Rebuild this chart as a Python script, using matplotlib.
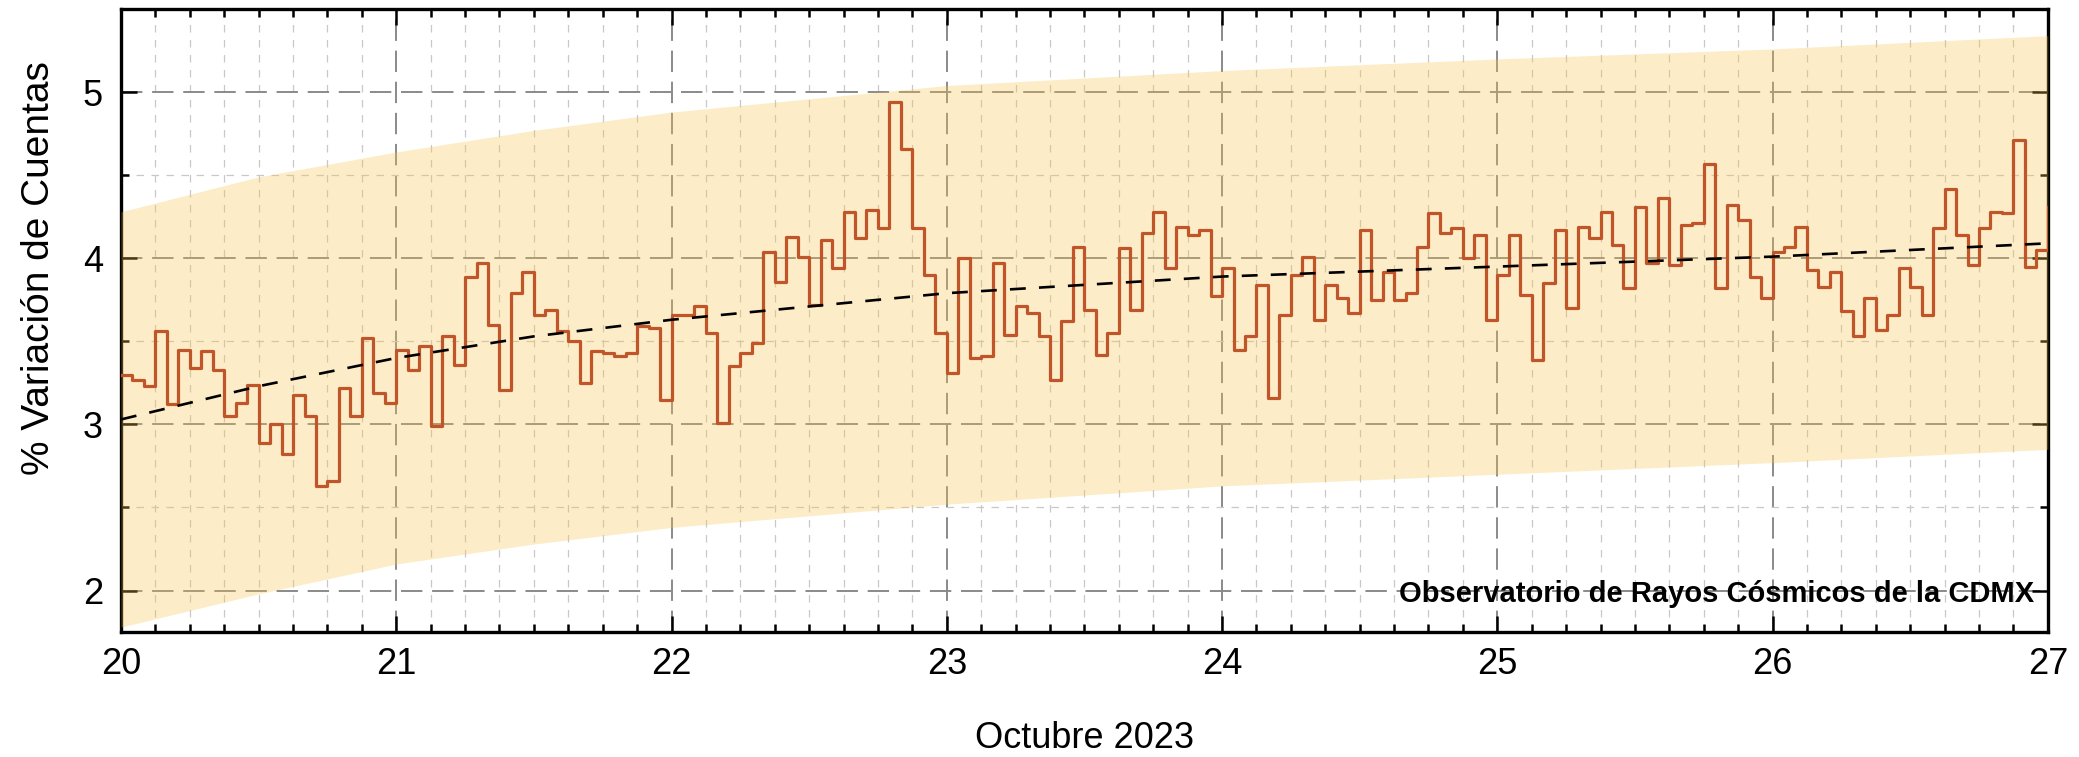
import matplotlib

matplotlib.use("Agg")
import matplotlib.pyplot as plt
import numpy as np
from matplotlib.ticker import MultipleLocator

plt.rcParams["font.family"] = ["Liberation Sans", "DejaVu Sans"]

# hourly % variation of counts, 20-27 Oct 2023 (one value per hour)
day20 = [3.30, 3.27, 3.23, 3.56, 3.12, 3.45, 3.34, 3.44, 3.33, 3.05, 3.13, 3.24,
         2.89, 3.00, 2.82, 3.18, 3.05, 2.63, 2.66, 3.22, 3.05, 3.52, 3.19, 3.13]
day21 = [3.45, 3.33, 3.47, 2.99, 3.53, 3.36, 3.89, 3.97, 3.60, 3.21, 3.79, 3.92,
         3.66, 3.69, 3.56, 3.50, 3.25, 3.44, 3.43, 3.41, 3.43, 3.59, 3.58, 3.15]
day22 = [3.66, 3.66, 3.71, 3.55, 3.01, 3.35, 3.43, 3.49, 4.04, 3.86, 4.13, 4.01,
         3.72, 4.11, 3.94, 4.28, 4.12, 4.29, 4.18, 4.94, 4.66, 4.18, 3.90, 3.55]
day23 = [3.31, 4.00, 3.40, 3.41, 3.97, 3.54, 3.71, 3.67, 3.53, 3.27, 3.62, 4.07,
         3.69, 3.42, 3.55, 4.06, 3.69, 4.15, 4.28, 3.94, 4.19, 4.14, 4.17, 3.77]
day24 = [3.94, 3.45, 3.53, 3.84, 3.16, 3.66, 3.90, 4.01, 3.63, 3.84, 3.76, 3.67,
         4.17, 3.75, 3.92, 3.75, 3.79, 4.07, 4.27, 4.15, 4.18, 4.00, 4.14, 3.63]
day25 = [3.90, 4.14, 3.78, 3.39, 3.85, 4.17, 3.70, 4.19, 4.12, 4.28, 4.08, 3.82,
         4.31, 3.97, 4.36, 3.96, 4.20, 4.21, 4.57, 3.82, 4.32, 4.23, 3.89, 3.76]
day26 = [4.04, 4.07, 4.19, 3.93, 3.83, 3.92, 3.68, 3.53, 3.76, 3.57, 3.66, 3.94,
         3.83, 3.66, 4.18, 4.42, 4.14, 3.96, 4.18, 4.28, 4.27, 4.71, 3.95, 4.05]
day27 = [4.31]

# trend curve and its band, read at a few days
trend_days = [20.0, 20.5, 21.0, 21.5, 22.0, 23.0, 24.0, 25.0, 26.0, 27.0]
trend_vals = [3.03, 3.23, 3.40, 3.53, 3.63, 3.79, 3.89, 3.95, 4.01, 4.09]
band_upper = [4.28, 4.49, 4.64, 4.77, 4.88, 5.04, 5.13, 5.20, 5.26, 5.34]
band_lower = [1.78, 1.98, 2.16, 2.28, 2.38, 2.52, 2.63, 2.70, 2.77, 2.85]

counts = day20 + day21 + day22 + day23 + day24 + day25 + day26 + day27
start_day = 20
hours = np.arange(len(counts))
x = start_day + hours / 24.0

fig = plt.figure(figsize=(20.79, 7.57), dpi=100)
ax = fig.add_axes([0.0582, 0.165, 0.9268, 0.823])

ax.fill_between(trend_days, band_lower, band_upper, color="#f8c348",
                alpha=0.3, lw=0, zorder=3)
ax.step(x, counts, where="post", color="#c0552a", lw=2.3, zorder=4)
ax.plot(trend_days, trend_vals, color="black", lw=1.9, dashes=(6, 5), zorder=5)

ax.set_xlim(20, 27)
ax.set_ylim(1.75, 5.5)
ax.xaxis.set_major_locator(MultipleLocator(1))
ax.xaxis.set_minor_locator(MultipleLocator(0.125))
ax.yaxis.set_major_locator(MultipleLocator(1))
ax.yaxis.set_minor_locator(MultipleLocator(0.5))

ax.grid(which="major", color="#8a8a8a", lw=1.4, dashes=(11, 5))
ax.grid(which="minor", color="#c8c8c8", lw=0.9, dashes=(6, 6))

ax.tick_params(which="both", direction="in", top=True, right=True,
               width=1.8, color="black")
ax.tick_params(which="major", length=11.5, labelsize=26)
ax.tick_params(axis="x", which="major", pad=11)
ax.tick_params(axis="y", which="major", pad=13)
ax.tick_params(which="minor", length=5.5)
for sp in ax.spines.values():
    sp.set_linewidth(2.4)

ax.set_xlabel("Octubre 2023", fontsize=26, labelpad=28)
ax.set_ylabel("% Variación de Cuentas", fontsize=28, labelpad=14)
ax.yaxis.set_label_coords(-0.033, 0.585)

ax.text(26.95, 2.0, "Observatorio de Rayos Cósmicos de la CDMX", ha="right",
        va="center_baseline", fontsize=21, fontweight="bold", zorder=6)

fig.savefig("out.png", dpi=100)
